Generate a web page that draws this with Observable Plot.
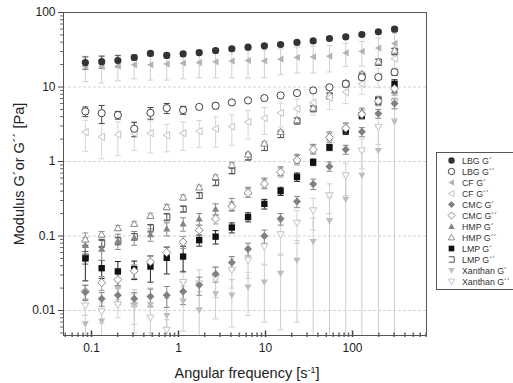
<!DOCTYPE html>
<html><head><meta charset="utf-8">
<script src="https://cdn.jsdelivr.net/npm/d3@7"></script>
<script src="https://cdn.jsdelivr.net/npm/@observablehq/plot@0.6"></script>
<style>
body{margin:0;background:#fff;}
#chart{position:relative;width:513px;height:383px;overflow:hidden;}
#chart svg{display:block;}
</style>
</head><body><div id="chart"></div>
<script>
// Angular frequency [1/s]
const freq = [0.085, 0.131, 0.201, 0.31, 0.476, 0.733, 1.13, 1.73, 2.67, 4.1, 6.3, 9.7, 14.9, 23, 35.3, 54.3, 83.6, 128, 198, 304];

const seriesNames = ["LBG G´", "LBG G´´", "CF G´", "CF G´´", "CMC G´", "CMC G´´", "HMP G´", "HMP G´´", "LMP G´", "LMP G´´", "Xanthan G´", "Xanthan G´´"];

// mean values [Pa]
const lbgG1 = [21.3, 21.9, 22.6, 24.9, 28.2, 26.5, 27.9, 29.0, 30.9, 32.6, 34.2, 35.7, 37.2, 39.6, 41.6, 44.8, 47.1, 50.7, 55.0, 59.7];
const lbgG2 = [4.7, 4.45, 4.2, 2.75, 4.5, 5.2, 4.9, 5.4, 5.6, 6.2, 6.6, 7.1, 7.7, 8.3, 9.0, 9.9, 11.0, 13.5, 13.6, 15.8];
const cfG1  = [18.8, 18.8, 19.1, 19.9, 19.9, 20.4, 20.9, 21.3, 21.8, 22.3, 22.7, 22.4, 23.6, 24.9, 25.4, 25.9, 28.8, 30.0, 33.3, 38.4];
const cfG2  = [2.47, 2.14, 2.3, 2.4, 2.4, 2.25, 2.4, 2.55, 2.75, 2.95, 3.4, 3.8, 4.5, 5.1, 6.2, 7.2, 8.5, 11.0, 13.8, 24.0];
const cmcG1 = [0.0176, 0.0144, 0.016, 0.0144, 0.0154, 0.016, 0.018, 0.022, 0.031, 0.044, 0.067, 0.1, 0.17, 0.29, 0.5, 0.86, 1.45, 2.5, 4.4, 6.0];
const cmcG2 = [0.018, 0.0236, 0.026, 0.034, 0.045, 0.06, 0.083, 0.12, 0.17, 0.25, 0.38, 0.5, 0.72, 1.05, 1.45, 2.1, 2.8, 4.3, 6.5, 9.5];
const hmpG1 = [0.075, 0.067, 0.086, 0.095, 0.105, 0.125, 0.146, 0.17, 0.23, 0.27, 0.39, 0.52, 0.75, 1.1, 1.5, 2.2, 2.9, 4.6, 6.6, 9.0];
const hmpG2 = [0.09, 0.105, 0.128, 0.146, 0.187, 0.245, 0.33, 0.45, 0.62, 0.9, 1.25, 1.75, 2.5, 3.6, 5.2, 7.8, 11.5, 15.0, 22.0, 31.0];
const lmpG1 = [0.05, 0.037, 0.0335, 0.036, 0.039, 0.051, 0.053, 0.088, 0.098, 0.13, 0.18, 0.27, 0.4, 0.62, 0.98, 1.55, 2.6, 4.15, 6.6, 11.0];
const lmpG2 = [0.052, 0.08, 0.086, 0.098, 0.128, 0.18, 0.23, 0.35, 0.52, 0.75, 1.15, 1.55, 2.3, 3.5, 5.1, 7.6, 11.0, 14.0, 21.5, 30.0];
const xanG1 = [0.0066, 0.0072, 0.02, 0.012, 0.012, 0.0085, 0.0133, 0.01, 0.0167, 0.016, 0.0206, 0.024, 0.0315, 0.047, 0.084, 0.16, 0.31, 0.65, 1.4, 3.4];
const xanG2 = [0.0116, 0.0097, 0.012, 0.0115, 0.008, 0.0055, 0.024, 0.023, 0.027, 0.035, 0.047, 0.072, 0.105, 0.15, 0.22, 0.35, 0.65, 1.4, 2.9, 6.3];

// standard deviations [Pa]
const lbgG1Err = [4, 4, 4, 2, 2, 2, 2, 2, 2, 2, 2, 2, 2, 2, 2, 2, 3, 3, 3, 4];
const lbgG2Err = [0.7, 1.2, 0.5, 0.6, 0.8, 0.8, 0.6, 0.4, 0.5, 0.4, 0.4, 0.4, 0.4, 0.5, 0.5, 0.6, 0.6, 1, 1, 1.5];
const cfG1Err  = [7, 7.5, 7, 7, 7.5, 8, 8, 8, 8.5, 9, 9.5, 9, 9, 9.5, 10, 10, 10, 11, 12, 14];
const cfG2Err  = [1.1, 1.05, 1.1, 1, 1.1, 0.9, 1, 1, 1.2, 1.3, 1.4, 1.5, 1.6, 1.8, 2, 2.2, 2.5, 3, 4, 6];
const cmcG1Err = [0.004, 0.003, 0.004, 0.003, 0.004, 0.005, 0.006, 0.006, 0.007, 0.009, 0.013, 0.02, 0.03, 0.05, 0.08, 0.12, 0.2, 0.35, 0.6, 0.9];
const cmcG2Err = [0.004, 0.005, 0.005, 0.007, 0.009, 0.012, 0.015, 0.02, 0.025, 0.035, 0.05, 0.07, 0.1, 0.15, 0.2, 0.3, 0.4, 0.6, 0.9, 1.3];
const hmpG1Err = [0.02, 0.02, 0.02, 0.02, 0.02, 0.025, 0.03, 0.03, 0.04, 0.05, 0.06, 0.08, 0.1, 0.15, 0.2, 0.3, 0.4, 0.6, 0.9, 1.2];
const hmpG2Err = [0.02, 0.01, 0.01, 0.01, 0.015, 0.02, 0.025, 0.03, 0.04, 0.06, 0.08, 0.1, 0.15, 0.2, 0.3, 0.4, 0.6, 0.9, 1.3, 2];
const lmpG1Err = [0.025, 0.01, 0.012, 0.01, 0.015, 0.02, 0.02, 0.015, 0.02, 0.02, 0.025, 0.04, 0.05, 0.08, 0.1, 0.15, 0.3, 0.4, 0.8, 1.5];
const lmpG2Err = [0.01, 0.01, 0.01, 0.01, 0.015, 0.02, 0.02, 0.03, 0.04, 0.06, 0.1, 0.15, 0.2, 0.3, 0.4, 0.6, 0.8, 1.2, 2, 3];
const xanG1Err = [0.002, 0.003, 0.006, 0.007, 0.008, 0.006, 0.008, 0.008, 0.009, 0.01, 0.012, 0.017, 0.026, 0.04, 0.09, 0.17, 0.33, 0.7, 1.5, 3.7];
const xanG2Err = [0.003, 0.003, 0.004, 0.005, 0.003, 0.002, 0.01, 0.012, 0.012, 0.015, 0.02, 0.03, 0.05, 0.07, 0.1, 0.15, 0.3, 0.6, 1.2, 2.5];

const yTicks = [0.01, 0.1, 1, 10, 100];
const xTicks = [0.1, 1, 10, 100];

const values = [lbgG1, lbgG2, cfG1, cfG2, cmcG1, cmcG2, hmpG1, hmpG2, lmpG1, lmpG2, xanG1, xanG2];
const errors = [lbgG1Err, lbgG2Err, cfG1Err, cfG2Err, cmcG1Err, cmcG2Err, hmpG1Err, hmpG2Err, lmpG1Err, lmpG2Err, xanG1Err, xanG2Err];

// custom symbols
const rad = s => Math.sqrt(s / Math.PI);
const triLeft = {draw(c, s){const r = rad(s); c.moveTo(-r, 0); c.lineTo(r * 0.8, -r); c.lineTo(r * 0.8, r); c.closePath();}};
const triDown = {draw(c, s){const r = rad(s); c.moveTo(0, r); c.lineTo(-r, -r * 0.75); c.lineTo(r, -r * 0.75); c.closePath();}};
const triUp = {draw(c, s){const r = rad(s); c.moveTo(0, -r); c.lineTo(-r, r * 0.75); c.lineTo(r, r * 0.75); c.closePath();}};
const bracket = {draw(c, s){const r = rad(s) * 0.85; c.moveTo(-r, -r); c.lineTo(r, -r); c.lineTo(r, r); c.lineTo(-r, r);}};
const capSym = {draw(c, s){const r = rad(s); c.moveTo(-r, 0); c.lineTo(r, 0);}};
const xTickSym = {draw(c, s){const r = rad(s); c.moveTo(0, 1.5); c.lineTo(0, -r);}};

// styles per series
const styles = [
  {symbol: "circle", fill: "#333", stroke: "none", err: "#555"},
  {symbol: "circle", fill: "white", stroke: "#444", err: "#444"},
  {symbol: triLeft, fill: "#b4b4b4", stroke: "none", err: "#cfcfcf"},
  {symbol: triLeft, fill: "white", stroke: "#c4c4c4", err: "#d6d6d6"},
  {symbol: "diamond2", fill: "#808080", stroke: "none", err: "#888"},
  {symbol: "diamond2", fill: "white", stroke: "#8a8a8a", err: "#999"},
  {symbol: triUp, fill: "#858585", stroke: "none", err: "#888"},
  {symbol: triUp, fill: "white", stroke: "#8c8c8c", err: "#999"},
  {symbol: "square", fill: "#111", stroke: "none", err: "#222"},
  {symbol: bracket, fill: "none", stroke: "#555", err: "#555"},
  {symbol: triDown, fill: "#bdbdbd", stroke: "none", err: "#cdcdcd"},
  {symbol: triDown, fill: "white", stroke: "#c4c4c4", err: "#d0d0d0"}
];

const yMin = 0.00462, yMax = 100;
const rows = [];
values.forEach((vals, si) => vals.forEach((v, i) => {
  const e = errors[si][i];
  rows.push({series: seriesNames[si], si, x: freq[i], y: v, lo: v - e > 0 ? v - e : 1e-6, hi: v + e});
}));

const marks = [
  Plot.ruleY(yTicks.filter(t => t < 100), {y: d => d, stroke: "#c8c8c8", strokeDasharray: "3,2", strokeWidth: 0.8})
];
// error bars (draw back to front)
for (let si = styles.length - 1; si >= 0; si--) {
  const st = styles[si];
  const d = rows.filter(r => r.si === si);
  marks.push(Plot.ruleX(d, {x: "x", y1: "lo", y2: "hi", stroke: st.err, strokeWidth: 1, clip: true}));
  marks.push(Plot.dot(d.filter(r => r.lo > yMin), {x: "x", y: "lo", symbol: capSym, r: 3, stroke: st.err, strokeWidth: 1}));
  marks.push(Plot.dot(d.filter(r => r.hi < yMax), {x: "x", y: "hi", symbol: capSym, r: 3, stroke: st.err, strokeWidth: 1}));
}
for (let si = styles.length - 1; si >= 0; si--) {
  const st = styles[si];
  const d = rows.filter(r => r.si === si);
  marks.push(Plot.dot(d, {x: "x", y: "y", symbol: st.symbol, r: 3.6, fill: st.fill, stroke: st.stroke, strokeWidth: 1, clip: true}));
}

// axes
const yMinor = [];
const xMinor = [];
[0.001, 0.01, 0.1, 1, 10].forEach(b => { for (let m = 2; m <= 9; m++) { const v = b * m; if (v > yMin && v < yMax) yMinor.push(v); } });
[0.01, 0.1, 1, 10, 100].forEach(b => { for (let m = 2; m <= 9; m++) { const v = b * m; if (v > 0.0477 && v < 708) xMinor.push(v); } });

marks.push(
  Plot.axisY(yTicks, {tickSize: 5, tickPadding: 3, fontSize: 12, stroke: "#444", fill: "#222", label: null, tickFormat: d3.format("~g")}),
  Plot.axisY(yMinor, {tickSize: 3, tickFormat: () => "", stroke: "#666", label: null}),
  Plot.axisX(xTicks, {tickSize: 0, tickPadding: 8, fontSize: 12, fill: "#222", label: null, tickFormat: d3.format("~g")}),
  Plot.dot(xTicks, {x: d => d, frameAnchor: "bottom", symbol: xTickSym, r: 5, stroke: "#444"}),
  Plot.dot(xMinor, {x: d => d, frameAnchor: "bottom", symbol: xTickSym, r: 3, stroke: "#666"}),
  Plot.frame({stroke: "#555", strokeWidth: 1})
);

const plot = Plot.plot({
  width: 513,
  height: 383,
  marginLeft: 63,
  marginRight: 87,
  marginTop: 12,
  marginBottom: 48,
  style: {fontFamily: "'Liberation Sans', Arial, sans-serif", background: "white", overflow: "visible"},
  x: {type: "log", domain: [0.0477, 708], axis: null},
  y: {type: "log", domain: [yMin, yMax], axis: null},
  marks
});

const svg = d3.select(plot);
// axis titles
svg.append("text")
  .attr("x", 247).attr("y", 378)
  .attr("text-anchor", "middle")
  .attr("font-size", 14.5).attr("fill", "#222")
  .attr("font-family", "'Liberation Sans', Arial, sans-serif")
  .html('Angular frequency [s<tspan baseline-shift="super" font-size="9">-1</tspan>]');
svg.append("text")
  .attr("transform", "translate(24,174) rotate(-90)")
  .attr("text-anchor", "middle")
  .attr("font-size", 14.5).attr("fill", "#222")
  .attr("font-family", "'Liberation Sans', Arial, sans-serif")
  .text("Modulus G´or G´´ [Pa]");

// legend
const lg = svg.append("g");
lg.append("rect").attr("x", 436.5).attr("y", 152.5).attr("width", 120).attr("height", 137)
  .attr("fill", "white").attr("stroke", "#555");
seriesNames.forEach((name, i) => {
  const st = styles[i];
  const yy = 160.5 + i * 11;
  lg.append("path")
    .attr("transform", `translate(451.5,${yy})`)
    .attr("d", d3.symbol(typeof st.symbol === "string" ? ({circle: d3.symbolCircle, diamond2: d3.symbolDiamond2, square: d3.symbolSquare})[st.symbol] : st.symbol, 3.2 * 3.2 * Math.PI)())
    .attr("fill", st.fill).attr("stroke", st.stroke);
  lg.append("text").attr("x", 462).attr("y", yy + 3.5)
    .attr("text-anchor", "start")
    .attr("font-size", 8.8).attr("fill", "#333")
    .attr("font-family", "'Liberation Sans', Arial, sans-serif")
    .text(name);
});

document.getElementById("chart").appendChild(plot);
</script>
</body></html>
